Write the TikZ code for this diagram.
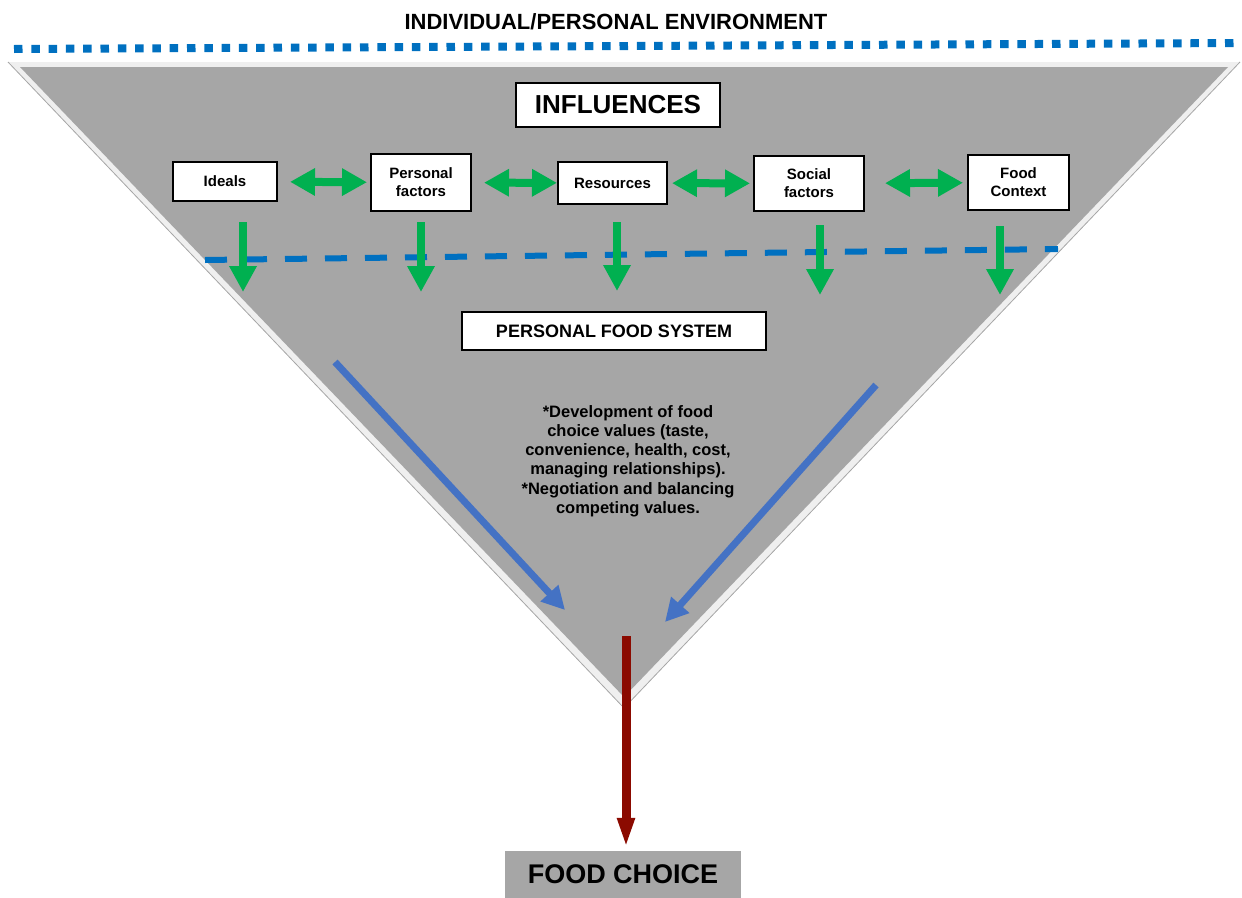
\documentclass[tikz,border=0pt]{standalone}
\usepackage{fontspec}
\setmainfont{Liberation Sans}
\usetikzlibrary{arrows.meta}
\usetikzlibrary{positioning}
\usepackage{xcolor}
\definecolor{funnelgray}{HTML}{A6A6A6}
\definecolor{rimgray}{HTML}{EFEFEF}
\definecolor{lineblue}{HTML}{0070C0}
\definecolor{arrowblue}{HTML}{4472C4}
\definecolor{arrowgreen}{HTML}{00B050}
\definecolor{choicered}{HTML}{8B0A00}

\begin{document}
\begin{tikzpicture}[x=1pt,y=-1pt,
    box/.style={draw=black, line width=2pt, fill=white, align=center, inner sep=0pt,
        font=\fontsize{15}{18}\selectfont\bfseries},
    linkarrow/.style={arrowgreen, line width=8pt,
        {Triangle[width=26pt,length=25pt]}-{Triangle[width=26pt,length=25pt]}},
    downarrow/.style={arrowgreen, line width=8.5pt, -{Triangle[width=26pt,length=26pt]}},
    flowarrow/.style={arrowblue, line width=7pt, -{Triangle[width=23pt,length=23pt]}}]
    \useasboundingbox (0,0) rectangle (1242,897);

    % Funnel
    \fill[rimgray] (8,62) -- (1240,62) -- (624,708) -- cycle;
    \draw[gray!70, line width=0.8pt] (8,62) -- (624,708) -- (1240,62);
    \fill[funnelgray] (20,67) -- (1228,67) -- (624,697) -- cycle;

    % Environment boundary
    \node[font=\fontsize{22}{26}\selectfont\bfseries] (env) at (616,22) {INDIVIDUAL/PERSONAL ENVIRONMENT};
    \draw[lineblue, line width=8pt, dash pattern=on 8.5pt off 8.8pt] (14,49) -- (1242,43);

    % Influences
    \node[box, minimum width=204pt, minimum height=44pt, font=\fontsize{26}{30}\selectfont\bfseries] (influences) at (618,105) {INFLUENCES};
    \node[box, minimum width=104pt, minimum height=39pt] (ideals) at (225,181.5) {Ideals};
    \node[box, minimum width=100pt, minimum height=57pt] (personal) at (421,182.5) {Personal\\factors};
    \node[box, minimum width=109pt, minimum height=42pt] (resources) at (612.5,183) {Resources};
    \node[box, minimum width=110pt, minimum height=55pt] (social) at (809,183.5) {Social\\factors};
    \node[box, minimum width=101pt, minimum height=55pt] (context) at (1018.5,182.5) {Food\\Context};

    \draw[linkarrow, shorten <=12pt, shorten >=3pt] (ideals) -- (personal);
    \draw[linkarrow, shorten <=12pt] (personal) -- (resources);
    \draw[linkarrow, shorten <=4pt, shorten >=3pt] (resources) -- (social);
    \draw[linkarrow, shorten <=20pt, shorten >=4pt] (social) -- (context);

    % Boundary of the personal system
    \draw[lineblue, line width=6pt, dash pattern=on 22pt off 18pt] (205,260) -- (1058,249);

    \coordinate (d1) at (243,292);
    \coordinate (d2) at (421,292);
    \coordinate (d3) at (617,291);
    \coordinate (d4) at (820,295);
    \coordinate (d5) at (1000,295);
    \draw[downarrow, shorten <=20pt] (ideals.south -| d1) -- (d1);
    \draw[downarrow, shorten <=10pt] (personal.south -| d2) -- (d2);
    \draw[downarrow, shorten <=17pt] (resources.south -| d3) -- (d3);
    \draw[downarrow, shorten <=13pt] (social.south -| d4) -- (d4);
    \draw[downarrow, shorten <=15pt] (context.south -| d5) -- (d5);

    % Personal food system
    \node[box, minimum width=304pt, minimum height=38pt, font=\fontsize{18}{21}\selectfont\bfseries] (pfs) at (614,331) {PERSONAL FOOD SYSTEM};
    \node[align=center, font=\fontsize{16.5}{19.2}\selectfont\bfseries] (values) at (628,461)
        {*Development of food\\choice values (taste,\\convenience, health, cost,\\managing relationships).\\*Negotiation and balancing\\competing values.};

    \coordinate (lstart) at (335,362);
    \coordinate (lend) at (565,610);
    \coordinate (rstart) at (876,385);
    \coordinate (rend) at (665,622);
    \draw[flowarrow] (lstart) -- (lend);
    \draw[flowarrow] (rstart) -- (rend);

    % Outcome
    \node[fill=funnelgray, minimum width=236pt, minimum height=47pt, inner sep=0pt, font=\fontsize{27}{30}\selectfont\bfseries] (choice) at (623,874.5) {FOOD CHOICE};
    \coordinate (stem) at (626,636);
    \draw[choicered, line width=9pt, -{Triangle[width=16pt,length=30pt]}, shorten >=3pt] (stem) -- (stem |- choice.north);
\end{tikzpicture}
\end{document}
